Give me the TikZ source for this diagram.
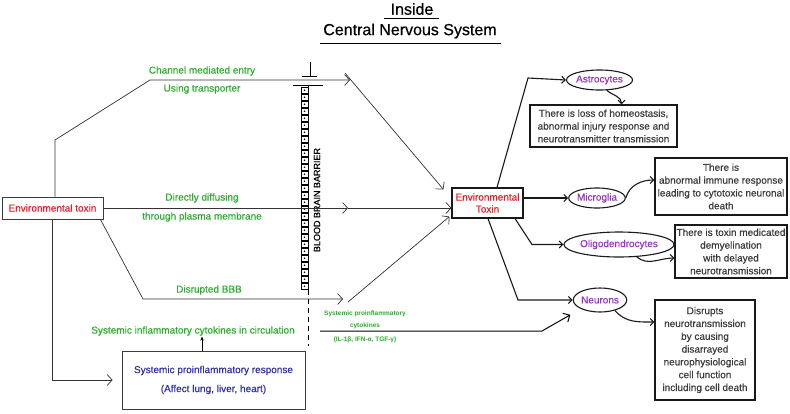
\documentclass[tikz,border=0pt]{standalone}
\usepackage{fontspec}
\setmainfont{Liberation Sans}[UprightFeatures={FakeBold=0.5}]
\usetikzlibrary{arrows.meta,shapes.geometric}
\definecolor{tgreen}{RGB}{45,175,45}
\definecolor{tred}{RGB}{235,30,40}
\definecolor{tpurple}{RGB}{150,55,190}
\definecolor{tblue}{RGB}{50,50,165}
\definecolor{tgray}{RGB}{60,60,60}
\tikzset{
  lbl/.style={font=\fontsize{10}{12}\selectfont, inner sep=0pt},
  glbl/.style={lbl, text=tgreen},
  smallg/.style={font=\bfseries\fontsize{6.5}{8}\selectfont, text=tgreen, inner sep=0pt},
  lbox/.style={draw=tgray, line width=0.8pt, inner sep=0pt, font=\fontsize{10}{12}\selectfont},
  rbox/.style={draw=black!90, line width=1.1pt, inner sep=0pt, align=center, text=tgray, font=\fontsize{10}{12.8}\selectfont},
  cellnode/.style={draw=black!90, ellipse, line width=1.1pt, inner sep=0pt, text=tpurple, font=\fontsize{10}{12}\selectfont},
  thinarr/.style={line width=0.7pt, draw=black!80, -{Straight Barb[length=5pt,width=11pt]}},
  thickarr/.style={line width=1.1pt, draw=black!90, -{Straight Barb[length=3.5pt,width=7pt]}},
  ttl/.style={font=\fontsize{16}{18}\selectfont, inner sep=0pt}
}
\begin{document}
\begin{tikzpicture}[x=1pt,y=-1pt]
\useasboundingbox (0,0) rectangle (790,413);
\fill[white] (0,0) rectangle (790,413);

% title
\node[ttl] (t1) at (412,9) {Inside};
\node[ttl] (t2) at (410,31) {Central Nervous System};
\draw[line width=0.9pt] ([xshift=-6pt,yshift=-3pt]t1.south west) -- ([xshift=5pt,yshift=-3pt]t1.south east);
\draw[line width=0.9pt] ([xshift=-3pt,yshift=-5pt]t2.south west) -- ([xshift=4pt,yshift=-5pt]t2.south east);

% left boxes
\node[lbox, minimum width=101pt, minimum height=22pt, text=tred] (env) at (52.5,208) {Environmental toxin};
\node[lbox, minimum width=183pt, minimum height=58pt, text=tblue, align=center, font=\fontsize{10}{19}\selectfont] (sys) at (213.5,380) {Systemic proinflammatory response\\(Affect lung, liver, heart)};

% green labels
\node[glbl] (l1) at (202,71) {Channel mediated entry};
\node[glbl] (l2) at (202,89) {Using transporter};
\node[glbl] (l3) at (202,198) {Directly diffusing};
\node[glbl] (l4) at (202,217) {through plasma membrane};
\node[glbl] (l5) at (209,290) {Disrupted BBB};
\node[glbl] (circ) at (193,331) {Systemic inflammatory cytokines in circulation};
\node[smallg] (c1) at (365,314) {Systemic proinflammatory};
\node[smallg] (c2) at (365,326) {cytokines};
\node[smallg] (c3) at (365,340) {(IL-1β, IFN-α, TGF-γ)};

% blood brain barrier
\draw[line width=0.8pt] (310,62) -- (310,76);
\draw[line width=0.8pt] (302,76) -- (317,76);
\draw[line width=0.8pt] (293,85) -- (323,85);
\foreach \i in {0,...,28} {
  \draw[line width=0.6pt] (301,{87+7*\i}) rectangle ++(7,6.5);
  \fill (304.5,{90.3+7*\i}) circle (0.9);
}
\draw[line width=0.9pt] (308,85) -- (308,290);
\draw[line width=0.9pt, dash pattern=on 5pt off 4pt] (308,290) -- (308,346);
\node[rotate=90, font=\fontsize{9}{10}\selectfont, inner sep=0pt] (bbb) at (317,200) {BLOOD BRAIN BARRIER};

% CNS toxin box
\node[draw=black!90, line width=1.1pt, minimum width=71pt, minimum height=30pt, inner sep=0pt, align=center, text=tred, font=\fontsize{10}{12}\selectfont] (envT) at (487.5,203) {Environmental\\Toxin};

% cells
\node[cellnode, minimum width=55pt, minimum height=20pt] (astro) at (599.5,80) {Astrocytes};
\node[cellnode, minimum width=50pt, minimum height=20pt] (micro) at (597,198) {Microglia};
\node[cellnode, minimum width=88pt, minimum height=25pt] (oligo) at (619,244.5) {Oligodendrocytes};
\node[cellnode, minimum width=42pt, minimum height=24pt] (neur) at (600,300) {Neurons};

% right boxes
\node[rbox, minimum width=147pt, minimum height=42pt] (astroB) at (603.5,126) {There is loss of homeostasis,\\abnormal injury response and\\neurotransmitter transmission};
\node[rbox, minimum width=132pt, minimum height=57pt] (microB) at (721,186.5) {There is\\abnormal immune response\\leading to cytotoxic neuronal\\death};
\node[rbox, minimum width=112pt, minimum height=53pt] (oligoB) at (731,251.5) {There is toxin medicated\\demyelination\\with delayed\\neurotransmission};
\node[rbox, minimum width=100pt, minimum height=100pt] (neurB) at (705,350) {Disrupts\\neurotransmission\\by causing\\disarrayed\\neurophysiological\\cell function\\including cell death};

% coordinates
\coordinate (tipA) at (350,80);
\coordinate (startA) at (345,73);
\coordinate (tipB) at (348,208);
\coordinate (tipC) at (343,299);
\coordinate (startC) at (348,302);
\coordinate (cytoS) at (320,331);

% left connectors
\draw[thinarr] ([xshift=2.5pt]env.north) -- (55,140) -- (150,80) -- (tipA);
\draw[thinarr] (startA) -- ([xshift=-8pt,yshift=-2pt]envT.north west);
\draw[thinarr] (env.east) -- (tipB);
\draw[thinarr] (tipB) -- ([yshift=-5pt]envT.west);
\draw[thinarr] ([xshift=-3pt]env.south east) -- (143,299) -- (tipC);
\draw[thinarr] (startC) -- ([xshift=-2pt,yshift=2pt]envT.south west);
\draw[thinarr, shorten >=9pt] ([xshift=-0.5pt]env.south) -- (52,380) -- (sys.west);
\draw[line width=0.9pt, -{Stealth[length=4pt,width=3.5pt]}] ([xshift=-11.5pt]sys.north) -- ([xshift=-11.5pt,yshift=14pt]sys.north);
\draw[line width=1pt, -{Straight Barb[length=5pt,width=10pt]}, shorten >=12pt] (cytoS) -- (542,331) -- (neur.south west);

% right connectors
\draw[thickarr] ([xshift=9.5pt]envT.north) -- (528,78) -- (astro.west);
\draw[thickarr] (astro.-55) to[out=-40,in=90] ([xshift=18pt]astroB.north);
\draw[thickarr] (envT.east |- micro.west) -- (micro.west);
\draw[thickarr] (micro.east) to[out=75,in=180] ([yshift=6.5pt]microB.west);
\draw[thickarr] ([xshift=27.5pt]envT.south) -- (532,244.5) -- (oligo.west);
\draw[thickarr] (oligo.-35) to[out=-40,in=180] ([yshift=-6.5pt]oligoB.west);
\draw[thickarr] ([xshift=0.5pt]envT.south) -- (518,300) -- (neur.west);
\draw[thickarr] (neur.-35) to[out=-50,in=180] ([yshift=28pt]neurB.west);
\end{tikzpicture}
\end{document}
